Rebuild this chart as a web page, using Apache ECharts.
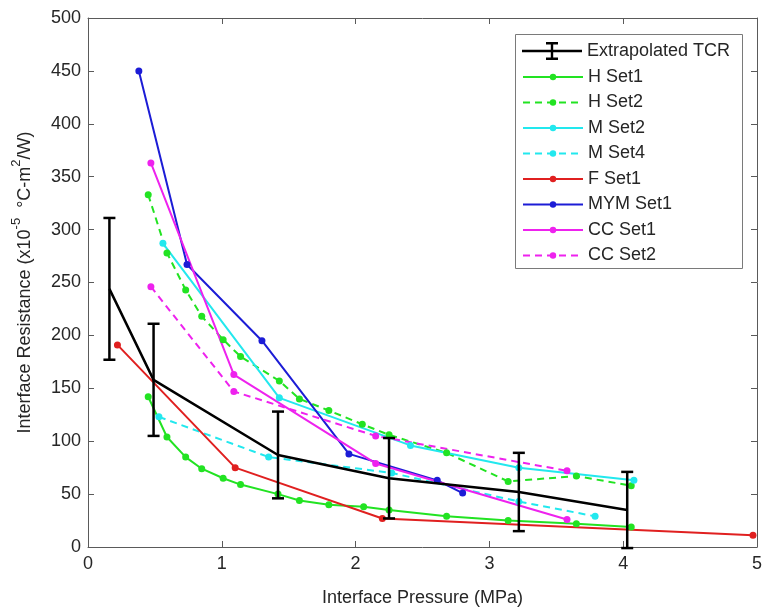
<!DOCTYPE html>
<html><head><meta charset="utf-8">
<script src="https://cdn.jsdelivr.net/npm/echarts@6/dist/echarts.min.js"></script>
<style>html,body{margin:0;padding:0;background:#fff}#c{width:762px;height:613px}</style>
</head><body><div id="c"></div>
<script>
const xTicks = [0, 1, 2, 3, 4, 5];
const yTicks = [0, 50, 100, 150, 200, 250, 300, 350, 400, 450, 500];

const tcrX = [0.16, 0.49, 1.42, 2.25, 3.22, 4.03];
const tcrY = [244, 158, 87, 65, 52, 35];
const tcrErr = [67, 53, 41, 38, 37, 36];

const hSet1X = [0.45, 0.59, 0.73, 0.85, 1.01, 1.14, 1.42, 1.58, 1.80, 2.06, 2.25, 2.68, 3.14, 3.65, 4.06];
const hSet1Y = [142, 104, 85, 74, 65, 59, 50, 44, 40, 38, 35, 29, 25, 22, 19];
const hSet2X = [0.45, 0.59, 0.73, 0.85, 1.01, 1.14, 1.43, 1.58, 1.80, 2.05, 2.25, 2.68, 3.14, 3.65, 4.06];
const hSet2Y = [333, 278, 243, 218, 196, 180, 157, 140, 129, 116, 106, 89, 62, 67, 58];
const mSet2X = [0.56, 1.43, 2.41, 3.22, 4.08];
const mSet2Y = [287, 141, 96, 75, 63];
const mSet4X = [0.53, 1.35, 2.27, 3.22, 3.79];
const mSet4Y = [123, 85, 70, 43, 29];
const fSet1X = [0.22, 1.10, 2.20, 4.97];
const fSet1Y = [191, 75, 27, 11];
const mymSet1X = [0.38, 0.74, 1.30, 1.95, 2.61, 2.80];
const mymSet1Y = [450, 267, 195, 88, 63, 51];
const ccSet1X = [0.47, 1.09, 2.15, 3.58];
const ccSet1Y = [363, 163, 79, 26];
const ccSet2X = [0.47, 1.09, 2.15, 3.58];
const ccSet2Y = [246, 147, 105, 72];

const FONT = '"Liberation Sans", Arial, Helvetica, sans-serif';
const TXT = '#262626';
const AX = '#5a5a5a';

function pairs(xs, ys) { return xs.map((x, i) => [x, ys[i]]); }

function mk(name, xs, ys, color, dashed) {
  return {
    name: name, type: 'line', data: pairs(xs, ys),
    symbol: 'circle', symbolSize: 7, showSymbol: true,
    itemStyle: { color: color },
    lineStyle: { color: color, width: 2, type: dashed ? [7, 5] : 'solid' },
    emphasis: { disabled: true }, animation: false, z: 3
  };
}

const chart = echarts.init(document.getElementById('c'), null, { renderer: 'canvas' });

const baseAxis = {
  axisLine: { show: true, onZero: false, lineStyle: { color: AX, width: 1 } },
  axisTick: { show: true, inside: true, length: 6, lineStyle: { color: AX } },
  splitLine: { show: false }
};

const option = {
  animation: false,
  backgroundColor: '#fff',
  grid: { left: 88, right: 5, top: 18, bottom: 66, containLabel: false, outerBoundsMode: 'none' },
  xAxis: [
    Object.assign({}, baseAxis, {
      type: 'value', min: xTicks[0], max: xTicks[xTicks.length - 1], interval: 1,
      position: 'bottom',
      axisLabel: { color: TXT, fontSize: 18, fontFamily: FONT, margin: 8 },
      name: 'Interface Pressure (MPa)', nameLocation: 'middle', nameGap: 42,
      nameTextStyle: { color: TXT, fontSize: 18, fontFamily: FONT }
    }),
    Object.assign({}, baseAxis, {
      type: 'value', min: xTicks[0], max: xTicks[xTicks.length - 1], interval: 1,
      position: 'top', axisLabel: { show: false }
    })
  ],
  yAxis: [
    Object.assign({}, baseAxis, {
      type: 'value', min: yTicks[0], max: yTicks[yTicks.length - 1], interval: 50,
      position: 'left',
      axisLabel: { color: TXT, fontSize: 18, fontFamily: FONT, margin: 7 },
      name: '{a|Interface Resistance (x10}{s|-5}{a|  \u00B0C-m}{s|2}{a|/W)}',
      nameLocation: 'middle', nameGap: 54,
      nameTextStyle: {
        color: TXT, fontSize: 18, fontFamily: FONT,
        rich: {
          a: { color: TXT, fontSize: 18, fontFamily: FONT, lineHeight: 24, verticalAlign: 'bottom' },
          s: { color: TXT, fontSize: 13, fontFamily: FONT, lineHeight: 24, verticalAlign: 'top' }
        }
      }
    }),
    Object.assign({}, baseAxis, {
      type: 'value', min: yTicks[0], max: yTicks[yTicks.length - 1], interval: 50,
      position: 'right', axisLabel: { show: false }
    })
  ],
  graphic: [{
    type: 'rect', left: 515, top: 34, z: 90,
    shape: { width: 227, height: 234 },
    style: { fill: '#fff', stroke: '#7a7a7a', lineWidth: 1 }
  }],
  legend: [
    {
      data: [{ name: 'Extrapolated TCR',
        icon: 'path://M0,7.8H60V10.2H0Z M28.8,1H31.2V17H28.8Z M24,0H36V2.4H24Z M24,15.6H36V18H24Z' }],
      orient: 'vertical', left: 522, top: 42, itemWidth: 60, itemHeight: 18, itemGap: 7.5,
      padding: 0, selectedMode: false, z: 100,
      textStyle: { color: TXT, fontSize: 18, fontFamily: FONT, lineHeight: 18 }
    },
    {
      data: ['H Set1', 'H Set2', 'M Set2', 'M Set4', 'F Set1', 'MYM Set1', 'CC Set1', 'CC Set2'],
      orient: 'vertical', left: 522, top: 68, itemWidth: 60, itemHeight: 8, itemGap: 7.5,
      padding: 0, selectedMode: false, z: 100,
      textStyle: { color: TXT, fontSize: 18, fontFamily: FONT, lineHeight: 18 }
    }
  ],
  series: [
    {
      name: 'Extrapolated TCR', type: 'line', data: pairs(tcrX, tcrY),
      symbol: 'none', itemStyle: { color: '#000' },
      lineStyle: { color: '#000', width: 2.5 }, z: 4, animation: false
    },
    {
      name: 'TCR error', type: 'custom',
      data: tcrX.map((x, i) => [x, tcrY[i] - tcrErr[i], tcrY[i] + tcrErr[i]]),
      renderItem: function (params, api) {
        const lo = api.coord([api.value(0), api.value(1)]);
        const hi = api.coord([api.value(0), api.value(2)]);
        const cw = 6;
        const st = { stroke: '#000', lineWidth: 2.5, fill: null };
        return {
          type: 'group', children: [
            { type: 'line', shape: { x1: lo[0], y1: lo[1], x2: hi[0], y2: hi[1] }, style: st },
            { type: 'line', shape: { x1: lo[0] - cw, y1: lo[1], x2: lo[0] + cw, y2: lo[1] }, style: st },
            { type: 'line', shape: { x1: hi[0] - cw, y1: hi[1], x2: hi[0] + cw, y2: hi[1] }, style: st }
          ]
        };
      },
      z: 4, animation: false
    },
    mk('H Set1', hSet1X, hSet1Y, '#22e322', false),
    mk('H Set2', hSet2X, hSet2Y, '#22e322', true),
    mk('M Set2', mSet2X, mSet2Y, '#22e8ee', false),
    mk('M Set4', mSet4X, mSet4Y, '#22e8ee', true),
    mk('F Set1', fSet1X, fSet1Y, '#e02020', false),
    mk('MYM Set1', mymSet1X, mymSet1Y, '#1c1cd6', false),
    mk('CC Set1', ccSet1X, ccSet1Y, '#ee22ee', false),
    mk('CC Set2', ccSet2X, ccSet2Y, '#ee22ee', true)
  ]
};
chart.setOption(option);
</script></body></html>
